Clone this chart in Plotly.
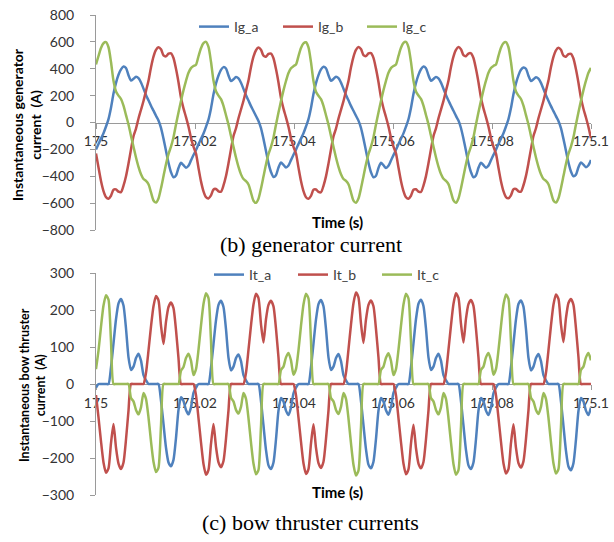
import numpy as np
import plotly.graph_objects as go

# ---------------- data ----------------
T_START = 175.0          # s
SAMPLE_STEP_MS = 0.505   # sampling step of the read values (ms)

x_ticks = [175.0, 175.02, 175.04, 175.06, 175.08, 175.1]
x_tick_labels = ["175", "175.02", "175.04", "175.06", "175.08", "175.1"]

# generator currents (A)
ig_a = [
    -200,-160,-120,-80,-30,25,110,215,295,355,395,417,405,352,312,325,340,330,298,252,205,165,125,88,50,15,-40,-120,-210,-300,-370,-408,-395,-338,-300,-318,-337,-322,-282,-242,
    -205,-162,-122,-82,-32,22,105,210,290,350,392,412,402,350,308,322,338,328,296,250,203,163,122,86,48,12,-42,-122,-212,-302,-368,-405,-392,-335,-298,-315,-335,-320,-280,-240,
    -202,-160,-120,-80,-30,25,108,212,293,353,395,415,404,352,310,324,340,330,297,251,205,165,124,87,50,14,-40,-120,-210,-300,-370,-408,-396,-338,-300,-318,-338,-322,-283,-243,
    -203,-161,-121,-81,-31,24,108,213,294,354,396,416,404,351,311,324,339,329,297,251,204,164,124,87,49,14,-41,-121,-211,-301,-369,-407,-394,-337,-299,-317,-336,-321,-281,-241,
    -202,-160,-120,-80,-30,25,107,211,291,351,392,410,400,348,308,322,337,327,295,249,202,162,122,85,47,12,-42,-122,-210,-298,-365,-400,-388,-333,-297,-314,-333,-318,-279,
]
ig_b = [
    -230,-335,-435,-510,-555,-567,-545,-500,-498,-515,-518,-470,-400,-305,-200,-102,-45,30,95,160,235,310,410,490,540,560,545,500,492,512,515,480,400,300,185,105,40,-30,-115,-180,
    -232,-338,-438,-512,-556,-565,-543,-498,-495,-512,-515,-468,-398,-303,-198,-100,-43,32,97,162,237,312,412,490,538,558,542,497,490,510,512,478,398,298,183,103,38,-32,-117,-182,
    -231,-336,-436,-511,-556,-568,-546,-501,-499,-516,-519,-471,-401,-306,-201,-103,-46,29,94,159,234,309,409,489,540,562,547,502,494,514,516,481,401,301,186,106,41,-29,-114,-179,
    -230,-335,-435,-510,-556,-567,-545,-500,-497,-514,-517,-469,-399,-304,-199,-101,-44,31,96,161,236,311,411,490,540,561,546,501,493,513,515,480,400,300,185,105,40,-30,-115,-180,
    -232,-337,-437,-511,-555,-564,-542,-497,-495,-512,-515,-467,-397,-302,-198,-100,-43,32,97,162,237,312,411,489,537,556,541,497,490,509,511,476,396,296,182,102,37,-33,-118,
]
ig_c = [
    432,495,555,590,598,560,450,310,230,200,175,125,55,-15,-100,-180,-260,-330,-385,-420,-435,-460,-520,-580,-596,-565,-490,-400,-310,-235,-180,-110,-15,75,160,240,310,370,405,420,
    430,493,553,590,600,562,452,312,232,200,174,124,54,-16,-101,-181,-261,-331,-386,-421,-436,-461,-521,-582,-598,-567,-492,-402,-312,-236,-181,-111,-16,74,159,239,309,369,404,419,
    431,494,554,589,597,559,449,309,229,199,174,124,54,-16,-100,-180,-260,-330,-385,-420,-435,-460,-520,-581,-597,-566,-491,-401,-311,-235,-180,-110,-15,75,160,240,310,370,405,420,
    431,495,556,592,600,561,451,311,231,201,176,126,56,-14,-99,-179,-259,-329,-384,-419,-434,-459,-519,-580,-598,-566,-491,-400,-310,-234,-179,-109,-14,76,161,241,311,371,406,421,
    432,496,556,591,598,560,450,310,230,200,175,125,55,-15,-100,-180,-260,-330,-385,-420,-435,-460,-520,-580,-596,-564,-489,-399,-309,-234,-179,-109,-14,76,161,241,311,371,406,
]

# bow thruster currents (A)
it_a = [
    -10,0,0,0,0,0,45,110,175,218,230,212,150,72,38,47,70,82,63,24,10,0,0,0,0,0,-45,-108,-172,-212,-222,-205,-146,-70,-36,-46,-70,-82,-63,-24,
    -10,0,0,0,0,0,44,108,172,214,225,208,148,71,37,47,70,80,62,24,10,0,0,0,0,0,-46,-112,-178,-220,-230,-212,-150,-72,-38,-47,-72,-84,-64,-25,
    -10,0,0,0,0,0,45,109,174,216,227,210,149,72,38,47,70,81,62,24,10,0,0,0,0,0,-46,-111,-176,-218,-228,-210,-149,-72,-38,-47,-71,-83,-63,-24,
    -10,0,0,0,0,0,45,110,175,217,228,211,150,72,38,47,70,82,63,24,10,0,0,0,0,0,-46,-112,-178,-220,-230,-212,-150,-72,-38,-47,-72,-84,-64,-25,
    -10,0,0,0,0,0,45,109,174,216,226,209,149,71,37,47,70,81,62,24,10,0,0,0,0,0,-47,-113,-180,-223,-233,-214,-151,-73,-38,-47,-72,-84,-64,
]
it_b = [
    -30,-90,-155,-212,-240,-228,-160,-108,-172,-215,-230,-212,-150,-72,0,0,0,0,0,0,30,90,155,210,238,226,158,108,168,208,220,205,146,70,0,0,0,0,0,0,
    -30,-92,-158,-216,-245,-232,-162,-108,-170,-212,-225,-208,-148,-71,0,0,0,0,0,0,30,92,158,215,244,232,162,112,175,214,225,210,150,72,0,0,0,0,0,0,
    -30,-91,-156,-214,-243,-230,-161,-109,-172,-214,-227,-210,-149,-72,0,0,0,0,0,0,30,93,160,218,247,234,164,111,174,214,226,210,149,72,0,0,0,0,0,0,
    -30,-92,-157,-215,-244,-231,-161,-110,-173,-215,-228,-211,-150,-72,0,0,0,0,0,0,30,92,158,216,245,233,163,112,176,216,227,211,150,72,0,0,0,0,0,0,
    -30,-91,-156,-214,-242,-230,-160,-109,-172,-214,-226,-209,-149,-71,0,0,0,0,0,0,30,91,157,214,242,230,161,113,178,219,230,214,151,73,0,0,0,0,0,
]
it_c = [
    40,90,155,212,240,228,115,0,0,0,0,0,0,0,-38,-47,-70,-82,-63,-24,-40,-90,-155,-210,-238,-226,-113,0,0,0,0,0,0,0,36,46,70,82,63,24,
    40,92,158,216,245,232,118,0,0,0,0,0,0,0,-37,-47,-70,-80,-62,-24,-40,-92,-158,-215,-244,-232,-116,0,0,0,0,0,0,0,38,47,72,84,64,25,
    40,91,157,215,244,231,117,0,0,0,0,0,0,0,-38,-47,-70,-81,-62,-24,-40,-93,-160,-218,-247,-234,-118,0,0,0,0,0,0,0,38,47,71,83,63,24,
    40,92,157,215,244,231,116,0,0,0,0,0,0,0,-38,-47,-70,-82,-63,-24,-40,-92,-158,-216,-245,-233,-117,0,0,0,0,0,0,0,38,47,72,84,64,25,
    40,91,156,214,242,230,115,0,0,0,0,0,0,0,-37,-47,-70,-81,-62,-24,-40,-91,-157,-214,-242,-230,-117,0,0,0,0,0,0,0,38,47,72,84,64,
]

gen_names = ["Ig_a", "Ig_b", "Ig_c"]
thr_names = ["It_a", "It_b", "It_c"]
phase_colors = ["#4F81BD", "#C0504D", "#9BBB59"]

# ---------------- figure ----------------
W, H = 614, 542
ML, MR, MT, MB = 96, 23, 15, 47
PW, PH = W - ML - MR, H - MT - MB


def px_x(px):
    return (px - ML) / PW


def px_y(py):
    return (H - MB - py) / PH


time_gen = T_START + np.arange(len(ig_a)) * SAMPLE_STEP_MS / 1000.0
time_thr = T_START + np.arange(len(it_a)) * SAMPLE_STEP_MS / 1000.0

fig = go.Figure()
for name, vals, col in zip(gen_names, [ig_a, ig_b, ig_c], phase_colors):
    fig.add_trace(go.Scatter(x=time_gen[:len(vals)], y=vals, name=name, mode="lines",
                             line=dict(color=col, width=2.5, shape="spline", smoothing=0.7),
                             xaxis="x", yaxis="y", legend="legend"))
for name, vals, col in zip(thr_names, [it_a, it_b, it_c], phase_colors):
    fig.add_trace(go.Scatter(x=time_thr[:len(vals)], y=vals, name=name, mode="lines",
                             line=dict(color=col, width=2.5, shape="spline", smoothing=0.6),
                             xaxis="x2", yaxis="y2", legend="legend2"))

FONT = "Lato"
tick_font = dict(family=FONT, size=14, color="#333333")
axis_col = "#9A9A9A"

top_dom = [px_y(230), px_y(15)]
bot_dom = [px_y(495), px_y(273)]

common_x = dict(range=[175.0, 175.1], tickvals=x_ticks, ticktext=x_tick_labels,
                showline=True, linecolor=axis_col, linewidth=1, ticks="outside",
                ticklen=5, tickcolor=axis_col, showgrid=False, zeroline=False,
                tickfont=tick_font, layer="below traces", anchor="free",
                ticklabelstandoff=1, domain=[0, 1], automargin=False,
                ticklabeloverflow="allow")
common_y = dict(showline=True, linecolor=axis_col, linewidth=1, ticks="outside",
                ticklen=5, tickcolor=axis_col, showgrid=False, zeroline=False,
                tickfont=tick_font, ticklabelstandoff=13, automargin=False)

fig.update_layout(
    width=W, height=H,
    margin=dict(l=ML, r=MR, t=MT, b=MB, autoexpand=False),
    paper_bgcolor="white", plot_bgcolor="white",
    xaxis=dict(**common_x, position=(top_dom[0] + top_dom[1]) / 2),
    yaxis=dict(**common_y, domain=top_dom, range=[-800, 800], dtick=200),
    xaxis2=dict(**common_x, position=(bot_dom[0] + bot_dom[1]) / 2),
    yaxis2=dict(**common_y, domain=bot_dom, range=[-300, 300], dtick=100),
    legend=dict(orientation="h", x=px_x(194), y=px_y(27), xanchor="left", yanchor="middle",
                font=dict(family=FONT, size=14, color="#404040"), bgcolor="rgba(0,0,0,0)",
                entrywidth=39, entrywidthmode="pixels"),
    legend2=dict(orientation="h", x=px_x(209), y=px_y(275), xanchor="left", yanchor="middle",
                 font=dict(family=FONT, size=14, color="#404040"), bgcolor="rgba(0,0,0,0)",
                 entrywidth=39, entrywidthmode="pixels"),
    showlegend=True,
)

ann = []
ann.append(dict(text="<b>Instantaneous generator<br>current\u00a0\u00a0(A)</b>", x=px_x(27), y=px_y(125),
                xref="paper", yref="paper", textangle=-90, showarrow=False,
                xanchor="center", yanchor="middle",
                font=dict(family=FONT, size=14, color="black")))
ann.append(dict(text="<b>Instantaneous bow thruster<br>current\u00a0\u00a0(A)</b>", x=px_x(32), y=px_y(385),
                xref="paper", yref="paper", textangle=-90, showarrow=False,
                xanchor="center", yanchor="middle",
                font=dict(family=FONT, size=12.5, color="black")))
ann.append(dict(text="<b>Time (s)</b>", x=px_x(337), y=px_y(222), xref="paper", yref="paper",
                showarrow=False, xanchor="center", yanchor="middle",
                font=dict(family=FONT, size=15, color="black")))
ann.append(dict(text="<b>Time (s)</b>", x=px_x(337), y=px_y(492), xref="paper", yref="paper",
                showarrow=False, xanchor="center", yanchor="middle",
                font=dict(family=FONT, size=15, color="black")))
ann.append(dict(text="(b) generator current", x=px_x(311), y=px_y(245), xref="paper", yref="paper",
                showarrow=False, xanchor="center", yanchor="middle",
                font=dict(family="Liberation Serif", size=22, color="black")))
ann.append(dict(text="(c) bow thruster currents", x=px_x(310), y=px_y(522), xref="paper", yref="paper",
                showarrow=False, xanchor="center", yanchor="middle",
                font=dict(family="Liberation Serif", size=22, color="black")))
fig.update_layout(annotations=ann)

fig.write_html("out.html", config={"displayModeBar": False},
               post_script="document.body.style.margin='0px';document.body.style.overflow='hidden';")
